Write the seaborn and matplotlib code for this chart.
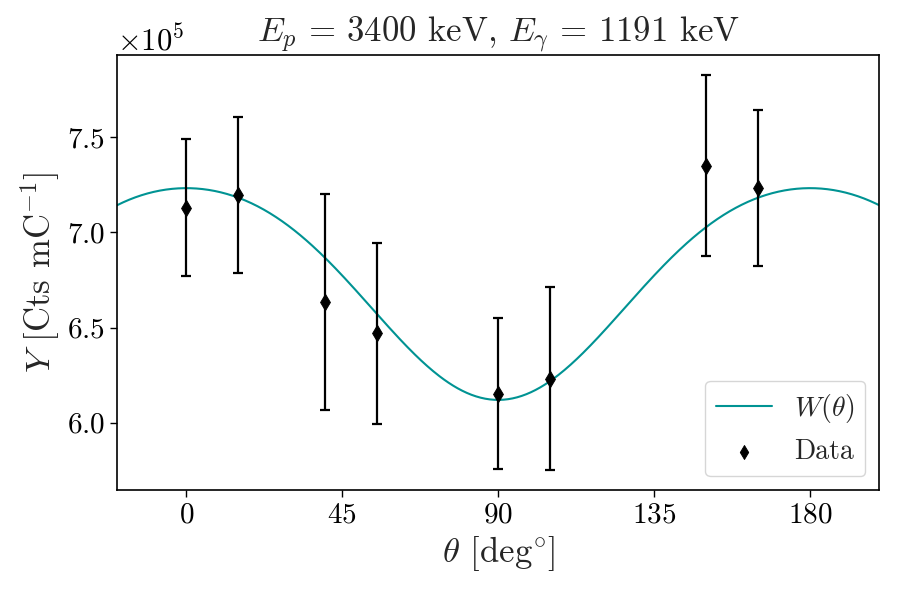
import numpy as np
import pandas as pd
import matplotlib
matplotlib.use("Agg")
import matplotlib.pyplot as plt
import seaborn as sns

# Data
angles = [0, 15, 40, 55, 90, 105, 150, 165]
yields = [7.13e5, 7.195e5, 6.635e5, 6.47e5, 6.152e5, 6.232e5, 7.351e5, 7.232e5]
yerrs = [0.36e5, 0.41e5, 0.567e5, 0.475e5, 0.397e5, 0.48e5, 0.476e5, 0.41e5]

# Legendre fit parameters W(theta) = A0 (1 + a2 P2 + a4 P4)
A0 = 6.543e5
a2 = 0.119
a4 = -0.0136

sns.set_theme(style="ticks")
plt.rcParams.update({
    "font.family": "serif",
    "font.serif": ["cmr10"],
    "mathtext.fontset": "cm",
    "axes.unicode_minus": False,
    "axes.formatter.use_mathtext": True,
    "axes.edgecolor": "black",
    "axes.linewidth": 1.2,
    "xtick.color": "black",
    "ytick.color": "black",
})

theta = np.linspace(-20, 200, 500)
c = np.cos(np.radians(theta))
P2 = 0.5 * (3 * c**2 - 1)
P4 = (35 * c**4 - 30 * c**2 + 3) / 8
W = A0 * (1 + a2 * P2 + a4 * P4)
curve = pd.DataFrame({"theta": theta, "W": W})
pts = pd.DataFrame({"theta": angles, "Y": yields, "err": yerrs})

fig = plt.figure(figsize=(9, 6), dpi=100)
ax = fig.add_axes([0.130, 0.183, 0.847, 0.725])

sns.lineplot(data=curve, x="theta", y="W", color="#009393", lw=1.5,
             label=r"$W(\theta)$", ax=ax)
ax.errorbar(pts["theta"], pts["Y"], yerr=pts["err"], fmt="none",
            ecolor="black", elinewidth=1.6, capsize=3.5, capthick=1.6)
sns.scatterplot(data=pts, x="theta", y="Y", marker="d", color="black",
                s=70, edgecolor="black", label="Data", ax=ax, zorder=3)

ax.set_xlim(-20, 200)
ax.set_ylim(5.646e5, 7.931e5)
ax.set_xticks([0, 45, 90, 135, 180])
ax.tick_params(axis="both", labelsize=21, length=5, width=1)
ax.ticklabel_format(axis="y", style="sci", scilimits=(0, 0), useMathText=True)
ax.yaxis.get_offset_text().set_fontsize(22)

ax.set_xlabel(r"$\theta$ [deg$^{\circ}$]", fontsize=25)
ax.set_ylabel(r"$Y$ [Cts mC$^{-1}$]", fontsize=25)
ax.set_title(r"$E_p\,=\,3400$ keV, $E_\gamma\,=\,1191$ keV", fontsize=25)

ax.legend(loc="lower right", fontsize=20, frameon=True, fancybox=True,
          markerscale=0.85)

fig.savefig("out.png", dpi=100)
